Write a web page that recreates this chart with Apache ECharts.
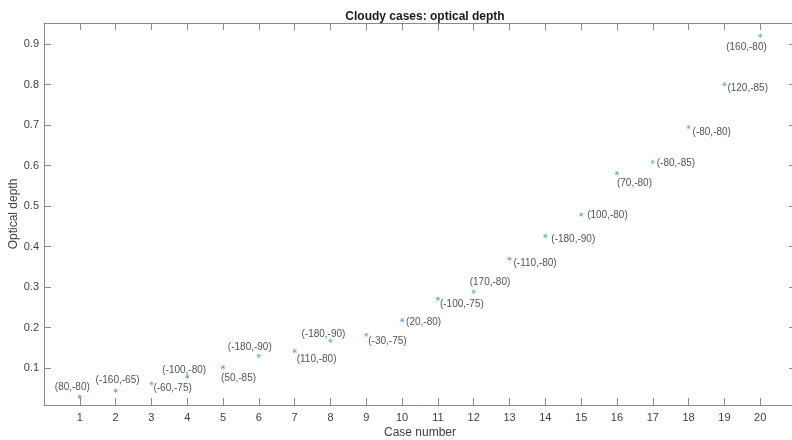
<!DOCTYPE html>
<html>
<head>
<meta charset="utf-8">
<script src="https://cdn.jsdelivr.net/npm/echarts@6/dist/echarts.min.js"></script>
<style>
  html, body { margin: 0; padding: 0; background: #fff; }
  #chart { width: 792px; height: 440px; }
</style>
</head>
<body>
<div id="chart"></div>
<script>
// Cloudy cases: case number vs. optical depth, each tagged with (lon,lat)
const caseNumbers = [1, 2, 3, 4, 5, 6, 7, 8, 9, 10, 11, 12, 13, 14, 15, 16, 17, 18, 19, 20];
const opticalDepth = [0.029, 0.044, 0.062, 0.079, 0.102, 0.130, 0.142, 0.167, 0.182, 0.218,
                      0.271, 0.288, 0.370, 0.426, 0.479, 0.581, 0.609, 0.695, 0.801, 0.921];
const locationTags = ['(80,-80)', '(-160,-65)', '(-60,-75)', '(-100,-80)', '(50,-85)',
                      '(-180,-90)', '(110,-80)', '(-180,-90)', '(-30,-75)', '(20,-80)',
                      '(-100,-75)', '(170,-80)', '(-110,-80)', '(-180,-90)', '(100,-80)',
                      '(70,-80)', '(-80,-85)', '(-80,-80)', '(120,-85)', '(160,-80)'];
const xTickLabels = ['1', '2', '3', '4', '5', '6', '7', '8', '9', '10',
                     '11', '12', '13', '14', '15', '16', '17', '18', '19', '20'];
const yTickValues = [0.1, 0.2, 0.3, 0.4, 0.5, 0.6, 0.7, 0.8, 0.9];

// Pixel offset of each tag's left edge / vertical centre from its marker
const tagOffsets = [[-25, -9], [-20, -10], [2, 5], [-25, -6], [-2, 11],
                    [-31, -9], [2, 8], [-29, -7], [2, 6], [4, 2],
                    [2, 6], [-4, -10], [4, 5], [6, 3], [6, 1],
                    [0, 10], [4, 1], [4, 5], [3, 4], [-34, 12]];

const axisColor = '#8a8a8a';
const textColor = '#404040';
const markColor = '#3f8fd0';
const fontFamily = 'Liberation Sans, Arial, sans-serif';

const asterisk = 'path://M4.5,0h1v10h-1z M0,4.5h10v1h-10z ' +
  'M1.2,1.9l0.7,-0.7l7,7l-0.7,0.7z M8.1,1.2l0.7,0.7l-7,7l-0.7,-0.7z';

const points = caseNumbers.map((c, i) => ({
  value: [c, opticalDepth[i]],
  label: {
    show: true,
    formatter: locationTags[i],
    position: 'inside',
    align: 'left',
    verticalAlign: 'middle',
    offset: tagOffsets[i]
  }
}));

const xAxisCommon = {
  type: 'value',
  min: 0,
  max: 21,
  interval: 1,
  splitLine: { show: false },
  axisLine: { show: true, onZero: false, lineStyle: { color: axisColor, width: 1 } },
  axisTick: {
    show: true, inside: true, length: 7,
    customValues: caseNumbers,
    lineStyle: { color: axisColor, width: 1 }
  }
};

const yAxisCommon = {
  type: 'value',
  min: 0.0086,
  max: 0.952,
  splitLine: { show: false },
  axisLine: { show: true, onZero: false, lineStyle: { color: axisColor, width: 1 } },
  axisTick: {
    show: true, inside: true, length: 7,
    customValues: yTickValues,
    lineStyle: { color: axisColor, width: 1 }
  }
};

const chart = echarts.init(document.getElementById('chart'), null, { renderer: 'canvas' });
chart.setOption({
  backgroundColor: '#ffffff',
  animation: false,
  textStyle: { fontFamily: fontFamily },
  title: {
    text: 'Cloudy cases: optical depth',
    left: 420,
    top: 6,
    textAlign: 'center',
    textStyle: { fontSize: 12, fontWeight: 'bold', color: '#1a1a1a', fontFamily: fontFamily }
  },
  grid: {
    left: 44, right: -4, top: 23, bottom: 35,
    containLabel: false,
    outerBoundsMode: 'none'
  },
  xAxis: [
    Object.assign({}, xAxisCommon, {
      position: 'bottom',
      name: 'Case number',
      nameLocation: 'middle',
      nameGap: 22,
      nameMoveOverlap: false,
      nameTextStyle: { fontSize: 12, color: textColor, fontFamily: fontFamily },
      axisLabel: {
        show: true, margin: 7, fontSize: 11, color: textColor, fontFamily: fontFamily,
        customValues: caseNumbers,
        formatter: v => xTickLabels[caseNumbers.indexOf(v)] || ''
      }
    }),
    Object.assign({}, xAxisCommon, {
      position: 'top',
      axisLabel: { show: false }
    })
  ],
  yAxis: [
    Object.assign({}, yAxisCommon, {
      position: 'left',
      name: 'Optical depth',
      nameLocation: 'middle',
      nameGap: 24,
      nameMoveOverlap: false,
      nameTextStyle: { fontSize: 12, color: textColor, fontFamily: fontFamily },
      axisLabel: {
        show: true, margin: 5, fontSize: 11, color: textColor, fontFamily: fontFamily,
        customValues: yTickValues,
        formatter: v => v.toFixed(1)
      }
    }),
    Object.assign({}, yAxisCommon, {
      position: 'right',
      axisLabel: { show: false }
    })
  ],
  series: [{
    type: 'scatter',
    xAxisIndex: 0,
    yAxisIndex: 0,
    symbol: asterisk,
    symbolSize: 5,
    itemStyle: { color: markColor },
    label: { fontSize: 10, color: '#262626', fontFamily: fontFamily },
    data: points
  }]
});
</script>
</body>
</html>
